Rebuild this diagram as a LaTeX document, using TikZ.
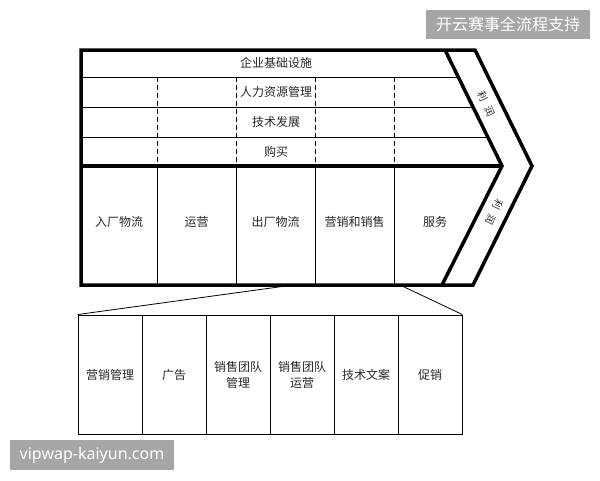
\documentclass[tikz,border=0pt]{standalone}
\usepackage{fontspec}
\setmainfont{Noto Sans CJK SC}
\newfontfamily\wmlatin{Noto Sans}
\definecolor{wmgray}{RGB}{166,166,166}
\begin{document}
\begin{tikzpicture}[x=1pt, y=-1pt,
  label/.style={font=\fontsize{12}{16}\selectfont, text=black!85, inner sep=1pt, align=center},
  cell/.style={label, draw, line width=0.9pt, minimum width=64pt, minimum height=119pt},
  frame/.style={line width=3.5pt, line join=miter},
  thinline/.style={line width=0.8pt},
  guide/.style={thinline, dash pattern=on 5pt off 3pt},
  profit/.style={font=\fontsize{10}{12}\selectfont, text=black!85, inner sep=1pt},
  wmbox/.style={fill=wmgray, text=white, inner sep=0pt, font=\fontsize{16}{18}\selectfont}
]
  \useasboundingbox (0,0) rectangle (600,480);
  % support activities
  \node[label] (infra) at (276,63) {企业基础设施};
  \node[label] (hrm) at (276,92) {人力资源管理};
  \node[label] (techdev) at (276,122) {技术发展};
  \node[label] (procure) at (276,151.5) {购买};
  \draw[thinline] (81,77) -- (458.3,77);
  \draw[thinline] (81,107) -- (473,107);
  \draw[thinline] (81,137) -- (487.8,137);
  \draw[guide] (157,77) -- (157,166);
  \draw[guide] (236,77) -- (236,166);
  \draw[guide] (315,77) -- (315,166);
  \draw[guide] (394,77) -- (394,166);
  % primary activities
  \node[label] (inbound) at (119,222) {入厂物流};
  \node[label] (ops) at (196.5,222) {运营};
  \node[label] (outbound) at (275.5,222) {出厂物流};
  \node[label] (mktsales) at (354.5,222) {营销和销售};
  \node[label] (service) at (435,222) {服务};
  \draw[thinline] (157,166) -- (157,285);
  \draw[thinline] (236,166) -- (236,285);
  \draw[thinline] (315,166) -- (315,285);
  \draw[thinline] (394,166) -- (394,285);
  % outer frame and margin
  \draw[frame] (81,50) -- (475,50) -- (532,166) -- (473,285) -- (81,285) -- cycle;
  \draw[frame] (445,50) -- (502,166) -- (442,285);
  \draw[frame] (81,166) -- (502,166);
  \node[profit, rotate=-64] (profitA) at (486,104) {利\hspace{6pt}润};
  \node[profit, rotate=-116] (profitB) at (494,212) {利\hspace{6pt}润};
  % marketing and sales breakdown
  \node[cell] (mktmgmt) at (110,374.5) {营销管理};
  \node[cell] (advert) at (174,374.5) {广告};
  \node[cell] (teammgmt) at (238,374.5) {销售团队\\管理};
  \node[cell] (teamops) at (302,374.5) {销售团队\\运营};
  \node[cell] (techdoc) at (366,374.5) {技术文案};
  \node[cell] (promo) at (430,374.5) {促销};
  \coordinate (zoomL) at (293,285);
  \coordinate (zoomR) at (400,285);
  \draw[thinline] (zoomL) -- (mktmgmt.north west);
  \draw[thinline] (zoomR) -- (promo.north east);
  % watermarks
  \node[wmbox, minimum width=164pt, minimum height=29pt] (wmtop) at (508,24.5) {开云赛事全流程支持};
  \node[wmbox, minimum width=164pt, minimum height=30pt] (wmbottom) at (92,455) {\wmlatin vipwap-kaiyun.com};
\end{tikzpicture}
\end{document}
